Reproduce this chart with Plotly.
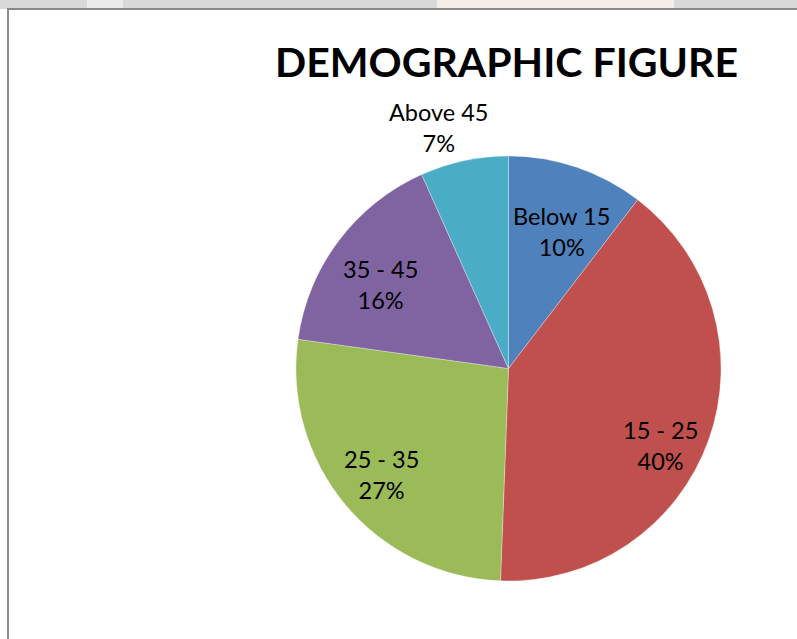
import math
import plotly.graph_objects as go

# ---- data ----
labels = ["Below 15", "15 - 25", "25 - 35", "35 - 45", "Above 45"]
values = [10.4, 40.2, 26.6, 16.1, 6.7]
colors = ["#4F81BD", "#C0504D", "#9BBB59", "#8064A2", "#4BACC6"]
title_text = "DEMOGRAPHIC FIGURE"

# label placement style: radial fraction of radius and angular nudge (deg)
label_rfrac = [0.69, 0.80, 0.78, 0.72, 1.18]
label_dang = [2.5, 7.0, 0.0, -3.5, -4.0]

W, H = 797, 639
cx, cy, R = 508.5, 368.5, 212.5  # pie center/radius in px

fig = go.Figure()
fig.add_trace(go.Pie(
    labels=labels, values=values, sort=False, direction="clockwise",
    rotation=0, marker=dict(colors=colors, line=dict(color="rgba(255,255,255,0.5)", width=0.6)),
    textinfo="none", hoverinfo="label+percent", showlegend=False,
    domain=dict(x=[(cx - R) / W, (cx + R) / W], y=[1 - (cy + R) / H, 1 - (cy - R) / H]),
))

total = sum(values)
cum = 0.0
annotations = []
for lab, v, rf, da in zip(labels, values, label_rfrac, label_dang):
    mid = (cum + v / 2) / total * 360.0 + da
    cum += v
    a = math.radians(mid)
    px = cx + rf * R * math.sin(a)
    py = cy - rf * R * math.cos(a)
    pct = round(v / total * 100)
    annotations.append(dict(
        x=px / W, y=1 - py / H, xref="paper", yref="paper",
        text=f"{lab}<br>{pct}%", showarrow=False,
        font=dict(family="Lato, Carlito, sans-serif", size=23.5, color="#000000"),
        align="center", xanchor="center", yanchor="middle",
    ))

annotations.append(dict(
    x=507 / W, y=1 - 62 / H, xref="paper", yref="paper", text=f"<b>{title_text}</b>",
    showarrow=False, xanchor="center", yanchor="middle",
    font=dict(family="Lato, sans-serif", size=41, color="#000000"),
))

shapes = [
    # faded strip at the very top
    dict(type="rect", xref="paper", yref="paper", x0=0, x1=1, y0=1 - 9 / H, y1=1,
         fillcolor="#d9d9d9", line=dict(width=0), layer="below"),
    dict(type="rect", xref="paper", yref="paper", x0=87 / W, x1=123 / W, y0=1 - 9 / H, y1=1,
         fillcolor="#ececec", line=dict(width=0), layer="below"),
    dict(type="rect", xref="paper", yref="paper", x0=437 / W, x1=674 / W, y0=1 - 9 / H, y1=1,
         fillcolor="#f4ede8", line=dict(width=0), layer="below"),
    # chart frame
    dict(type="rect", xref="paper", yref="paper", x0=8 / W, x1=1.05, y0=-0.05, y1=1 - 9 / H,
         fillcolor="rgba(0,0,0,0)", line=dict(color="#8a8a8a", width=2), layer="above"),
]

fig.update_layout(
    width=W, height=H, margin=dict(l=0, r=0, t=0, b=0),
    paper_bgcolor="#ffffff", plot_bgcolor="#ffffff",
    annotations=annotations, shapes=shapes,
)

fig.write_html("out.html", config={"displayModeBar": False},
               post_script="document.body.style.margin='0';")
